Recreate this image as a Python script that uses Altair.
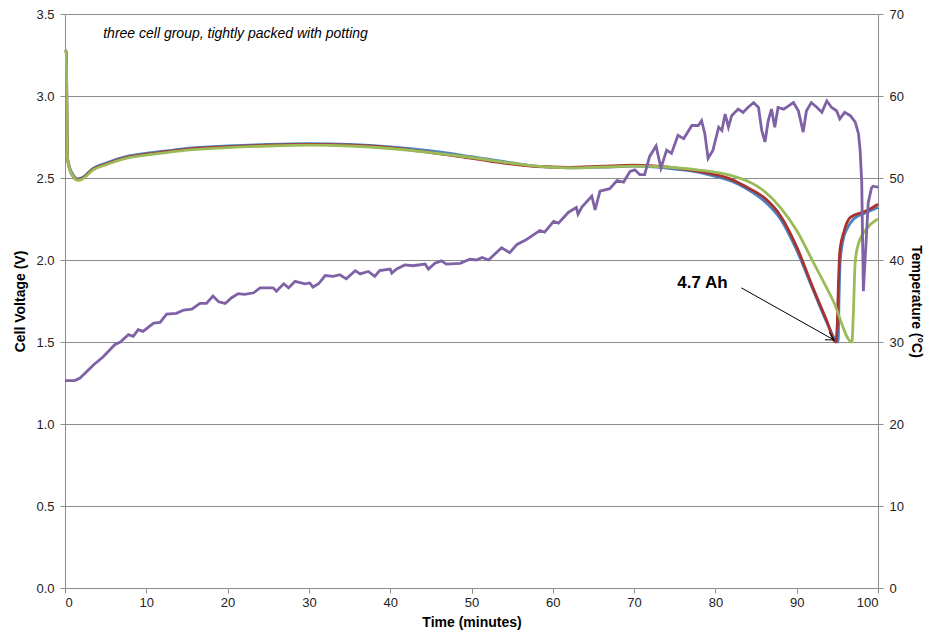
import altair as alt
import pandas as pd

# ---- data ----
base_t = [0, 0.15, 0.3, 0.6, 1.0, 1.5, 2.0, 3.5, 5, 7.5, 10, 12.5, 15, 20, 25, 30, 35, 40,
          45, 50, 55, 58, 62, 66, 70, 74, 78, 80, 82, 84]

blue_v_base = [3.28, 3.27, 2.63, 2.56, 2.52, 2.495, 2.50, 2.56, 2.59, 2.63, 2.65, 2.665, 2.68,
               2.695, 2.705, 2.71, 2.705, 2.69, 2.665, 2.63, 2.592, 2.572, 2.562, 2.566, 2.572,
               2.56, 2.535, 2.51, 2.48, 2.43]
blue_tail_t = [86, 88, 90, 92, 93.7, 95.1, 95.2, 95.35, 95.7, 96.3, 97.0, 98.6, 100]
blue_tail_v = [2.36, 2.25, 2.06, 1.82, 1.62, 1.50, 1.75, 1.99, 2.12, 2.20, 2.25, 2.29, 2.32]

red_v_base = [3.28, 3.27, 2.62, 2.55, 2.51, 2.49, 2.495, 2.555, 2.585, 2.625, 2.645, 2.66, 2.675,
              2.69, 2.70, 2.705, 2.70, 2.685, 2.655, 2.62, 2.585, 2.57, 2.565, 2.572, 2.578,
              2.568, 2.54, 2.52, 2.49, 2.44]
red_tail_t = [86, 88, 90, 92, 93.7, 94.8, 95.0, 95.1, 95.3, 95.8, 96.6, 98.6, 100]
red_tail_v = [2.38, 2.27, 2.08, 1.83, 1.63, 1.50, 1.62, 1.80, 2.05, 2.17, 2.26, 2.30, 2.34]

green_v_base = [3.28, 3.27, 2.62, 2.55, 2.51, 2.485, 2.49, 2.55, 2.58, 2.62, 2.64, 2.655, 2.67,
                2.685, 2.695, 2.70, 2.695, 2.68, 2.655, 2.625, 2.59, 2.572, 2.562, 2.567, 2.573,
                2.567, 2.548, 2.535, 2.515, 2.48]
green_tail_t = [86, 88, 90, 92, 94.5, 96.8, 96.95, 97.2, 97.6, 98.6, 100]
green_tail_v = [2.42, 2.32, 2.18, 1.99, 1.75, 1.50, 1.65, 1.99, 2.10, 2.19, 2.25]

temp_t = [0, 1.2, 1.85, 3.5, 4.7, 6.15, 6.8, 7.8, 8.4, 9.0, 9.6, 10.9, 11.7, 12.5, 13.7, 14.6,
          15.6, 16.6, 17.4, 18.2, 18.9, 19.7, 20.5, 21.3, 22.1, 23.2, 24.0, 25.6, 26.0, 26.9,
          27.5, 28.3, 29.5, 30.1, 30.5, 31.2, 32.0, 33.0, 33.8, 34.6, 35.7, 36.3, 37.3, 38.1,
          38.7, 40.0, 40.2, 40.8, 41.8, 42.8, 44.3, 44.7, 45.5, 46.3, 46.9, 48.6, 49.8, 50.6,
          51.3, 52.1, 53.7, 54.7, 55.6, 56.6, 57.2, 58.4, 59.0, 60.1, 60.7, 61.9, 62.9, 63.1,
          63.6, 64.8, 65.2, 65.8, 67.0, 67.9, 68.7, 69.5, 70.1, 70.7, 71.3, 71.9, 72.7, 73.3,
          74.0, 74.6, 75.4, 76.1, 77.1, 77.9, 78.3, 78.7, 79.1, 79.7, 80.4, 80.8, 81.2, 81.6,
          82.0, 82.8, 83.4, 84.0, 84.7, 85.3, 85.7, 86.1, 86.5, 86.9, 87.3, 87.7, 88.4, 89.0,
          89.6, 90.2, 90.8, 91.2, 91.8, 92.5, 93.1, 93.7, 94.3, 94.9, 95.3, 95.9, 96.6, 97.2,
          97.6, 97.8, 98.0, 98.2, 98.8, 99.2, 99.4, 99.9, 100]
temp_c = [25.3, 25.3, 25.6, 27.2, 28.2, 29.7, 30.0, 30.9, 30.7, 31.5, 31.3, 32.3, 32.4, 33.4,
          33.5, 33.9, 34.0, 34.7, 34.7, 35.6, 34.9, 34.7, 35.4, 35.9, 35.8, 36.0, 36.6, 36.6,
          36.2, 37.1, 36.6, 37.4, 37.1, 37.2, 36.7, 37.1, 38.1, 38.0, 38.2, 37.7, 38.7, 38.3,
          38.6, 38.0, 38.7, 38.9, 38.4, 38.9, 39.4, 39.3, 39.5, 38.9, 39.6, 39.9, 39.5, 39.6,
          40.1, 40.0, 40.3, 40.0, 41.5, 40.9, 41.9, 42.4, 42.8, 43.6, 43.4, 44.7, 44.5, 45.8,
          46.4, 45.6, 46.5, 47.8, 46.1, 48.4, 48.7, 49.7, 49.5, 50.8, 51.0, 50.4, 50.4, 52.6,
          53.9, 51.2, 53.4, 53.0, 55.2, 54.8, 56.4, 56.4, 57.0, 55.4, 52.4, 53.4, 56.2, 55.8,
          57.8, 56.2, 57.6, 58.4, 58.0, 58.6, 59.2, 58.6, 55.8, 54.4, 57.0, 58.4, 56.2, 58.6,
          58.4, 58.8, 59.2, 58.2, 55.6, 58.2, 59.2, 58.6, 58.0, 59.4, 58.6, 58.2, 57.2, 58.0,
          57.6, 56.8, 55.4, 53.4, 49.4, 36.2, 47.0, 48.8, 49.0, 48.9, 49.0]

x_ticks = [0, 10, 20, 30, 40, 50, 60, 70, 80, 90, 100]
v_ticks = [0.0, 0.5, 1.0, 1.5, 2.0, 2.5, 3.0, 3.5]
t_ticks = [0, 10, 20, 30, 40, 50, 60, 70]

title_text = "three cell group, tightly packed with potting"
note_text = "4.7 Ah"

FONT = "Liberation Sans"
GRID = "#8c8c8c"

blue_df = pd.DataFrame({"t": base_t + blue_tail_t, "v": blue_v_base + blue_tail_v})
red_df = pd.DataFrame({"t": base_t + red_tail_t, "v": red_v_base + red_tail_v})
green_df = pd.DataFrame({"t": base_t + green_tail_t, "v": green_v_base + green_tail_v})
temp_df = pd.DataFrame({"t": temp_t, "c": temp_c})

xscale = alt.Scale(domain=[0, 100], nice=False, zero=False)
vscale = alt.Scale(domain=[0, 3.5], nice=False)
cscale = alt.Scale(domain=[0, 70], nice=False)

xaxis = alt.Axis(values=x_ticks, title="Time (minutes)", grid=False, tickSize=5,
                 labelPadding=3, titlePadding=6, domainColor=GRID, tickColor=GRID)
vaxis = alt.Axis(values=v_ticks, format=".1f", title="Cell Voltage (V)", grid=True,
                 gridColor=GRID, gridWidth=1, tickSize=5, labelPadding=6, titlePadding=8,
                 domainColor=GRID, tickColor=GRID)
caxis = alt.Axis(values=t_ticks, title="Temperature (°C)", orient="right", grid=False,
                 tickSize=5, labelPadding=6, titlePadding=5, domainColor=GRID, tickColor=GRID)


def vline(df, color):
    return alt.Chart(df).mark_line(color=color, strokeWidth=2.8, interpolate="monotone").encode(
        x=alt.X("t:Q", scale=xscale, axis=xaxis),
        y=alt.Y("v:Q", scale=vscale, axis=vaxis),
    )


blue = vline(blue_df, "#4a83c4")
red = vline(red_df, "#a8322f")
green = vline(green_df, "#9bbb59")

title_mark = alt.Chart().mark_text(
    text=title_text, font=FONT, fontSize=14, fontStyle="italic", align="left",
    baseline="middle", color="#000"
).encode(x=alt.X(datum=4.7, scale=xscale, axis=xaxis),
         y=alt.Y(datum=3.38, scale=vscale, axis=vaxis))

note_mark = alt.Chart().mark_text(
    text=note_text, font=FONT, fontSize=17, fontWeight="bold", align="center",
    baseline="middle", color="#000"
).encode(x=alt.X(datum=78.4, scale=xscale, axis=xaxis),
         y=alt.Y(datum=1.86, scale=vscale, axis=vaxis))

arrow_line = alt.Chart().mark_rule(color="#000", strokeWidth=1).encode(
    x=alt.X(datum=83.2, scale=xscale, axis=xaxis),
    y=alt.Y(datum=1.83, scale=vscale, axis=vaxis),
    x2=alt.X2(datum=94.6), y2=alt.Y2(datum=1.512),
)
arrow_head = alt.Chart().mark_point(
    shape="M-1,-0.55L0,0L-1,0.55", filled=False, stroke="#000", strokeWidth=1,
    size=260, angle=30, opacity=1
).encode(x=alt.X(datum=94.6, scale=xscale, axis=xaxis),
         y=alt.Y(datum=1.512, scale=vscale, axis=vaxis))

volt_layer = alt.layer(blue, red, green, title_mark, note_mark, arrow_line, arrow_head)

temp = alt.Chart(temp_df).mark_line(color="#7f61a6", strokeWidth=2.8).encode(
    x=alt.X("t:Q", scale=xscale, axis=xaxis),
    y=alt.Y("c:Q", scale=cscale, axis=caxis),
)

chart = alt.layer(volt_layer, temp).resolve_scale(y="independent").properties(
    width=813, height=574,
    padding={"left": 57, "top": 6, "right": 48, "bottom": 46},
    autosize=alt.AutoSizeParams(type="none"),
).configure_view(stroke=None).configure_axis(
    labelFont=FONT, labelFontSize=13, labelColor="#222",
    titleFont=FONT, titleFontSize=14, titleFontWeight="bold", titleColor="#000",
)

chart.save("out.html", embed_options={"renderer": "svg", "actions": False})
